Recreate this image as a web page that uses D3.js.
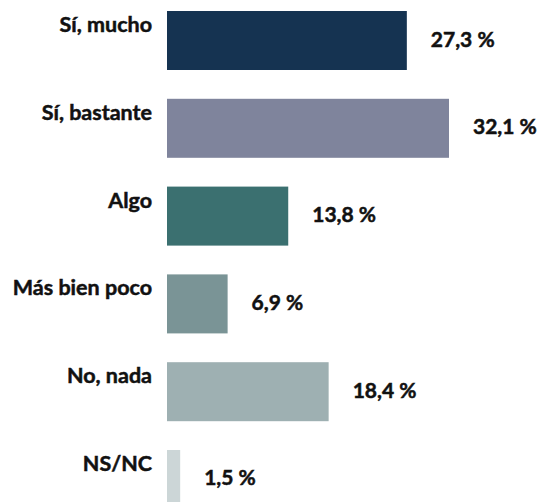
<!DOCTYPE html>
<html>
<head>
<meta charset="utf-8">
<script src="https://cdn.jsdelivr.net/npm/d3@7"></script>
<style>
  html, body { margin: 0; padding: 0; background: #ffffff; }
  svg { display: block; }
  text { font-family: Lato, "Noto Sans", sans-serif; font-weight: 700; fill: #111111;
         stroke: #111111; stroke-width: 0.5px; paint-order: stroke; }
</style>
</head>
<body>
<div id="chart"></div>
<script>
const categories = ["Sí, mucho", "Sí, bastante", "Algo", "Más bien poco", "No, nada", "NS/NC"];
const values = [27.3, 32.1, 13.8, 6.9, 18.4, 1.5];
const valueLabels = ["27,3 %", "32,1 %", "13,8 %", "6,9 %", "18,4 %", "1,5 %"];
const colors = ["#153351", "#7f849c", "#3b7070", "#7a9496", "#9eb0b2", "#ccd6d7"];

const width = 541, height = 502;
const svg = d3.select("#chart").append("svg")
  .attr("width", width).attr("height", height);

const x = d3.scaleLinear().domain([0, 32.1]).range([167, 449]);
const y = d3.scaleBand().domain(categories).range([11, 509]).paddingInner(0.328).paddingOuter(0);

const data = categories.map((c, i) => ({ c, v: values[i], label: valueLabels[i], color: colors[i] }));

svg.selectAll("rect.bar").data(data).join("rect")
  .attr("class", "bar")
  .attr("x", x(0))
  .attr("y", d => y(d.c))
  .attr("width", d => x(d.v) - x(0))
  .attr("height", y.bandwidth())
  .attr("fill", d => d.color);

svg.selectAll("text.cat").data(data).join("text")
  .attr("class", "cat")
  .attr("x", 152)
  .attr("y", d => y(d.c) + 21)
  .attr("text-anchor", "end")
  .style("font-size", "21.5px")
  .text(d => d.c);

svg.selectAll("text.val").data(data).join("text")
  .attr("class", "val")
  .attr("x", d => x(d.v) + 24)
  .attr("y", d => y(d.c) + y.bandwidth() / 2 + 6)
  .style("font-size", "21px")
  .text(d => d.label);
</script>
</body>
</html>
